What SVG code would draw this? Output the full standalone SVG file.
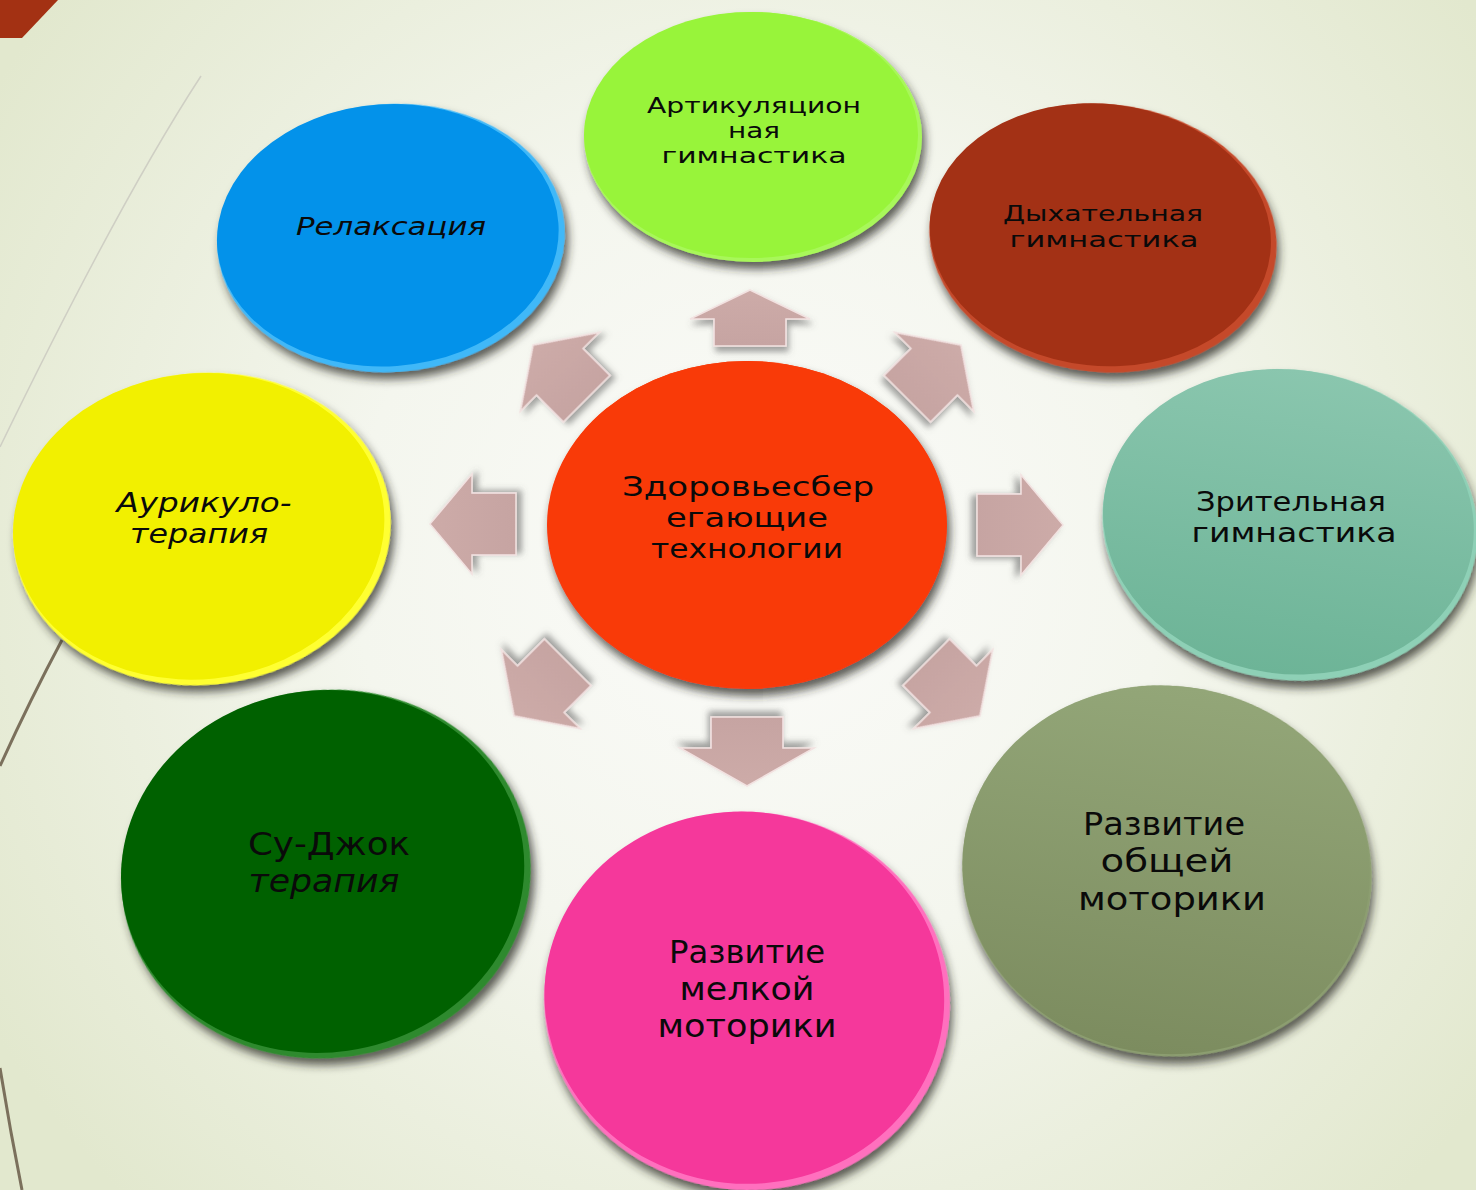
<svg xmlns="http://www.w3.org/2000/svg" width="1476" height="1190" viewBox="0 0 1476 1190">
  <defs>
    <radialGradient id="bg" cx="760" cy="560" r="900" gradientUnits="userSpaceOnUse">
      <stop offset="0" stop-color="#FBFBF9"/>
      <stop offset="0.45" stop-color="#F4F6EE"/>
      <stop offset="1" stop-color="#E2E8CE"/>
    </radialGradient>
    <filter id="shadow" x="-20%" y="-20%" width="140%" height="145%">
      <feDropShadow dx="3" dy="7" stdDeviation="5" flood-color="#2a2a22" flood-opacity="0.75"/>
    </filter>
    <filter id="ashadow" x="-30%" y="-30%" width="160%" height="170%">
      <feDropShadow dx="2" dy="5" stdDeviation="3" flood-color="#555" flood-opacity="0.55"/>
    </filter>
    <linearGradient id="arrowFill" x1="0" y1="0" x2="0" y2="1">
      <stop offset="0" stop-color="#CDABA8"/>
      <stop offset="1" stop-color="#C6A4A2"/>
    </linearGradient>
    <linearGradient id="tealFill" x1="0" y1="0" x2="0" y2="1">
      <stop offset="0" stop-color="#8AC6AE"/>
      <stop offset="1" stop-color="#6DB497"/>
    </linearGradient>
    <linearGradient id="oliveFill" x1="0" y1="0" x2="0" y2="1">
      <stop offset="0" stop-color="#93A678"/>
      <stop offset="1" stop-color="#7C8C5F"/>
    </linearGradient>
    <polygon id="arrowUp" points="0,0 60,29 36,29 36,56 -36,56 -36,29 -60,29"/>
    <polygon id="arrowDown" points="0,0 67,38 36,38 36,69 -36,69 -36,38 -67,38"/>
    <polygon id="arrowSide" points="0,0 50,42 31,42 31,86 -31,86 -31,42 -50,42"/>
    <polygon id="arrowDiag" points="0,0 56,38 33,38 33,76 -33,76 -33,38 -56,38"/>
  </defs>
  <style>
    .lbl { font-family: "DejaVu Sans", "Noto Sans", sans-serif; fill: #0a0a0a; text-anchor: middle; }
    .it { font-style: italic; }
    .body { filter: url(#shadow); }
    .arrow use { fill: url(#arrowFill); stroke: #F2E2E1; stroke-width: 1.6; stroke-linejoin: miter; filter: url(#ashadow); }
  </style>

  <!-- background and theme decoration -->
  <rect width="1476" height="1190" fill="url(#bg)"/>
  <polygon points="0,0 58,0 22,38 0,38" fill="#A33113"/>
  <path d="M201,76 Q120,200 0,447" fill="none" stroke="#CFCFC4" stroke-width="1.5"/>
  <path d="M62,640 Q30,700 0,766" fill="none" stroke="#7B705C" stroke-width="3"/>
  <path d="M0,1068 Q10,1130 22,1190" fill="none" stroke="#7B705C" stroke-width="3"/>

  <!-- block arrows pointing out from the centre -->
  <g id="connectors" class="arrow">
    <use href="#arrowUp" transform="translate(750,290)"/>
    <use href="#arrowDown" transform="translate(747,786) rotate(180)"/>
    <use href="#arrowSide" transform="translate(430,524) rotate(-90)"/>
    <use href="#arrowSide" transform="translate(1063,525) rotate(90)"/>
    <use href="#arrowDiag" transform="translate(533,345) rotate(-45)"/>
    <use href="#arrowDiag" transform="translate(961,345) rotate(45)"/>
    <use href="#arrowDiag" transform="translate(514,716) rotate(-135)"/>
    <use href="#arrowDiag" transform="translate(980,716) rotate(135)"/>
  </g>

  <g id="node-articulation">
    <ellipse class="body" cx="753" cy="137" rx="169" ry="125" fill="#A8F75A"/>
    <ellipse cx="751" cy="135" rx="167" ry="123" fill="#98F43A"/>
    <text class="lbl" font-size="21"><tspan x="754" y="113" textLength="214" lengthAdjust="spacingAndGlyphs">Артикуляцион</tspan><tspan x="754" y="138" textLength="52" lengthAdjust="spacingAndGlyphs">ная</tspan><tspan x="754" y="163" textLength="185" lengthAdjust="spacingAndGlyphs">гимнастика</tspan></text>
  </g>

  <g id="node-breathing">
    <ellipse class="body" cx="1103" cy="238" rx="174" ry="134" fill="#C54A2A" transform="rotate(6 1103 238)"/>
    <ellipse cx="1100" cy="235" rx="171" ry="131" fill="#A33115" transform="rotate(6 1103 238)"/>
    <text class="lbl" font-size="22"><tspan x="1103" y="221" textLength="200" lengthAdjust="spacingAndGlyphs">Дыхательная</tspan><tspan x="1104" y="247" textLength="189" lengthAdjust="spacingAndGlyphs">гимнастика</tspan></text>
  </g>

  <g id="node-relaxation">
    <ellipse class="body" cx="391" cy="238" rx="174" ry="134" fill="#3FB8F8" transform="rotate(-4 391 238)"/>
    <ellipse cx="388" cy="235" rx="171" ry="131" fill="#0392EA" transform="rotate(-4 391 238)"/>
    <text class="lbl it" font-size="24"><tspan x="391" y="235" textLength="190" lengthAdjust="spacingAndGlyphs">Релаксация</tspan></text>
  </g>

  <g id="node-auriculo">
    <ellipse class="body" cx="202" cy="529" rx="189" ry="156" fill="#FFFF30" transform="rotate(-6 202 529)"/>
    <ellipse cx="199" cy="526" rx="186" ry="153" fill="#F2F000" transform="rotate(-6 202 529)"/>
    <text class="lbl it" font-size="26"><tspan x="204" y="512" textLength="175" lengthAdjust="spacingAndGlyphs">Аурикуло-</tspan><tspan x="199" y="543" textLength="138" lengthAdjust="spacingAndGlyphs">терапия</tspan></text>
  </g>

  <g id="node-visual">
    <ellipse class="body" cx="1290" cy="525" rx="188" ry="155" fill="#8ED0B6" transform="rotate(8 1290 525)"/>
    <ellipse cx="1288" cy="522" rx="186" ry="152" fill="url(#tealFill)" transform="rotate(8 1290 525)"/>
    <text class="lbl" font-size="26"><tspan x="1291" y="511" textLength="190" lengthAdjust="spacingAndGlyphs">Зрительная</tspan><tspan x="1294" y="542" textLength="205" lengthAdjust="spacingAndGlyphs">гимнастика</tspan></text>
  </g>

  <g id="node-center">
    <ellipse class="body" cx="747" cy="525" rx="200" ry="164" fill="#F83A0A"/>
    <ellipse cx="747" cy="524" rx="199" ry="163" fill="#F93A08"/>
    <text class="lbl" font-size="26"><tspan x="748" y="496" textLength="252" lengthAdjust="spacingAndGlyphs">Здоровьесбер</tspan><tspan x="747" y="527" textLength="162" lengthAdjust="spacingAndGlyphs">егающие</tspan><tspan x="747" y="558" textLength="192" lengthAdjust="spacingAndGlyphs">технологии</tspan></text>
  </g>

  <g id="node-sujok">
    <ellipse class="body" cx="326" cy="874" rx="205" ry="184" fill="#2E8A2E" transform="rotate(-8 326 874)"/>
    <ellipse cx="323" cy="871" rx="202" ry="181" fill="#006100" transform="rotate(-8 326 874)"/>
    <text class="lbl" font-size="32"><tspan x="329" y="855" textLength="162" lengthAdjust="spacingAndGlyphs">Су-Джок</tspan><tspan class="it" x="324" y="892" textLength="151" lengthAdjust="spacingAndGlyphs">терапия</tspan></text>
  </g>

  <g id="node-fine-motor">
    <ellipse class="body" cx="747" cy="1001" rx="203" ry="189" fill="#FF70BE" transform="rotate(6 747 1001)"/>
    <ellipse cx="744" cy="998" rx="200" ry="186" fill="#F5389B" transform="rotate(6 747 1001)"/>
    <text class="lbl" font-size="32"><tspan x="747" y="963" textLength="156" lengthAdjust="spacingAndGlyphs">Развитие</tspan><tspan x="747" y="1000" textLength="135" lengthAdjust="spacingAndGlyphs">мелкой</tspan><tspan x="747" y="1037" textLength="179" lengthAdjust="spacingAndGlyphs">моторики</tspan></text>
  </g>

  <g id="node-gross-motor">
    <ellipse class="body" cx="1167" cy="871" rx="205" ry="185" fill="#8C9E70" transform="rotate(8 1167 871)"/>
    <ellipse cx="1166" cy="870" rx="204" ry="184" fill="url(#oliveFill)" transform="rotate(8 1167 871)"/>
    <text class="lbl" font-size="32"><tspan x="1164" y="835" textLength="162" lengthAdjust="spacingAndGlyphs">Развитие</tspan><tspan x="1167" y="872" textLength="133" lengthAdjust="spacingAndGlyphs">общей</tspan><tspan x="1172" y="910" textLength="188" lengthAdjust="spacingAndGlyphs">моторики</tspan></text>
  </g>
</svg>
